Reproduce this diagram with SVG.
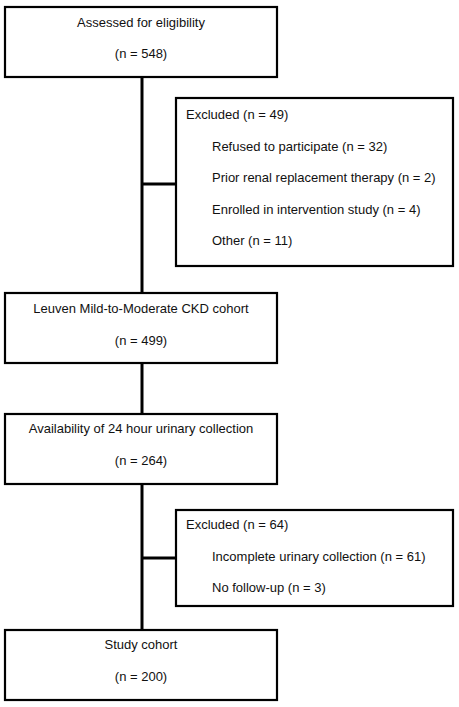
<svg xmlns="http://www.w3.org/2000/svg" width="459" height="707" viewBox="0 0 459 707">
<style>
.box{fill:#fff;stroke:#000;stroke-width:2.2}
.t{font-family:"Liberation Sans",Arial,sans-serif;font-size:13px;fill:#111}
.c{text-anchor:middle}
.ln{stroke:#000;stroke-width:3;fill:none}
</style>
<rect width="459" height="707" fill="#fff"/>
<g id="connectors">
<line class="ln" x1="142" y1="77" x2="142" y2="293"/>
<line class="ln" x1="142" y1="184" x2="176" y2="184"/>
<line class="ln" x1="142" y1="363" x2="142" y2="414"/>
<line class="ln" x1="142" y1="484" x2="142" y2="630"/>
<line class="ln" x1="142" y1="558" x2="176" y2="558"/>
</g>
<g id="assessed">
<rect class="box" x="5" y="7" width="272" height="70"/>
<text class="t c" x="141" y="27">Assessed for eligibility</text>
<text class="t c" x="141" y="58">(n = 548)</text>
</g>
<g id="excluded1">
<rect class="box" x="176" y="98" width="277" height="168"/>
<text class="t" x="186" y="118.5">Excluded (n = 49)</text>
<text class="t" x="212" y="151">Refused to participate (n = 32)</text>
<text class="t" x="212" y="182">Prior renal replacement therapy (n = 2)</text>
<text class="t" x="212" y="213.5">Enrolled in intervention study (n = 4)</text>
<text class="t" x="212" y="245">Other (n = 11)</text>
</g>
<g id="leuven">
<rect class="box" x="5" y="293" width="272" height="70"/>
<text class="t c" x="141" y="313">Leuven Mild-to-Moderate CKD cohort</text>
<text class="t c" x="141" y="345">(n = 499)</text>
</g>
<g id="availability">
<rect class="box" x="5" y="414" width="272" height="70"/>
<text class="t c" x="141" y="433">Availability of 24 hour urinary collection</text>
<text class="t c" x="141" y="465">(n = 264)</text>
</g>
<g id="excluded2">
<rect class="box" x="176" y="510" width="277" height="96"/>
<text class="t" x="186" y="528.5">Excluded (n = 64)</text>
<text class="t" x="212" y="561">Incomplete urinary collection (n = 61)</text>
<text class="t" x="212" y="591.5">No follow-up (n = 3)</text>
</g>
<g id="study">
<rect class="box" x="5" y="630" width="272" height="70"/>
<text class="t c" x="141" y="648.5">Study cohort</text>
<text class="t c" x="141" y="681">(n = 200)</text>
</g>
</svg>
